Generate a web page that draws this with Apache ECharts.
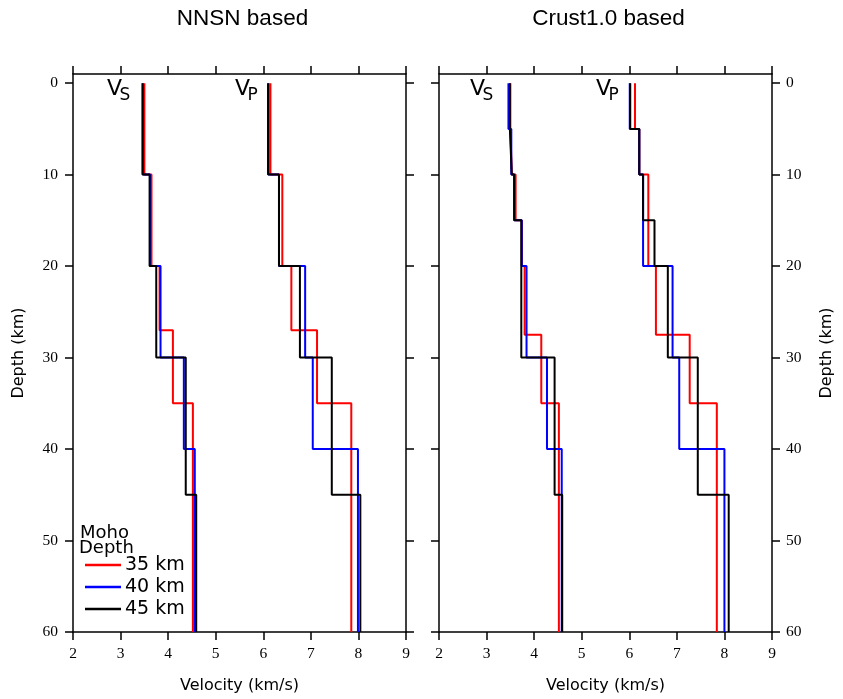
<!DOCTYPE html>
<html><head><meta charset="utf-8">
<script src="https://cdn.jsdelivr.net/npm/echarts@6/dist/echarts.min.js"></script>
<style>html,body{margin:0;padding:0;background:#fff}#c{width:843px;height:699px}</style>
</head><body><div id="c"></div>
<script>
const panelTitles = ['NNSN based', 'Crust1.0 based'];
const mohoNames = ['35 km', '40 km', '45 km'];
const mohoColors = ['#ff0000', '#0000ff', '#000000'];
const xTicks = [2, 3, 4, 5, 6, 7, 8, 9];
const depthTicks = [0, 10, 20, 30, 40, 50, 60];
const maxDepth = 60;

// NNSN based: layer top depths (km) and velocities (km/s)
const nnsnTops35 = [0, 10, 20, 27, 35];
const nnsnTops40 = [0, 10, 20, 30, 40];
const nnsnTops45 = [0, 10, 20, 30, 45];
const nnsnVs35 = [3.50, 3.65, 3.82, 4.10, 4.52];
const nnsnVs40 = [3.47, 3.62, 3.84, 4.33, 4.56];
const nnsnVs45 = [3.46, 3.61, 3.75, 4.37, 4.59];
const nnsnVp35 = [6.15, 6.40, 6.59, 7.13, 7.85];
const nnsnVp40 = [6.11, 6.33, 6.88, 7.04, 7.99];
const nnsnVp45 = [6.10, 6.33, 6.77, 7.44, 8.04];

// Crust1.0 based
const crustTops35 = [0, 5, 10, 15, 20, 27.5, 35];
const crustTops40 = [0, 5, 10, 15, 20, 30, 40];
const crustTops45 = [0, 5, 10, 15, 20, 30, 45];
const crustVs35 = [3.50, 3.53, 3.61, 3.74, 3.80, 4.15, 4.52];
const crustVs40 = [3.46, 3.52, 3.58, 3.74, 3.84, 4.27, 4.58];
const crustVs45 = [3.49, 3.53, 3.58, 3.73, 3.73, 4.43, 4.59];
const crustVp35 = [6.12, 6.21, 6.40, 6.40, 6.56, 7.27, 7.84];
const crustVp40 = [6.01, 6.21, 6.29, 6.29, 6.91, 7.05, 8.00];
const crustVp45 = [6.02, 6.21, 6.29, 6.53, 6.81, 7.44, 8.09];

function profile(tops, vals) {
  const pts = [];
  for (let i = 0; i < tops.length; i++) {
    const bot = i + 1 < tops.length ? tops[i + 1] : maxDepth;
    pts.push([vals[i], tops[i]]);
    pts.push([vals[i], bot]);
  }
  return pts;
}

const panels = [
  { tops: [nnsnTops35, nnsnTops40, nnsnTops45], vs: [nnsnVs35, nnsnVs40, nnsnVs45], vp: [nnsnVp35, nnsnVp40, nnsnVp45] },
  { tops: [crustTops35, crustTops40, crustTops45], vs: [crustVs35, crustVs40, crustVs45], vp: [crustVp35, crustVp40, crustVp45] }
];

const gridLefts = [73, 439];
const gw = 333, gtop = 74, gh = 558;
const serif = 'Liberation Serif';
const sans = 'DejaVu Sans';
const axisLineStyle = { color: '#000', width: 1.5 };

const grids = [], xAxes = [], yAxes = [], series = [], titles = [];
panels.forEach((p, pi) => {
  grids.push({ left: gridLefts[pi], top: gtop, width: gw, height: gh });
  titles.push({
    text: panelTitles[pi], left: gridLefts[pi] + gw / 2 - 2, top: 2, textAlign: 'center',
    textStyle: { fontFamily: 'Liberation Sans', fontSize: 22.5, fontWeight: 'normal', color: '#000' }
  });
  xAxes.push({
    gridIndex: pi, type: 'value', position: 'bottom', min: 2, max: 9, interval: 1,
    name: 'Velocity (km/s)', nameLocation: 'middle', nameGap: 46,
    nameTextStyle: { fontFamily: sans, fontSize: 16, color: '#000' },
    axisLine: { show: true, onZero: false, lineStyle: axisLineStyle },
    axisTick: { show: true, inside: false, length: 8, lineStyle: axisLineStyle },
    axisLabel: { show: true, margin: 14, fontFamily: serif, fontSize: 15.5, color: '#000' },
    splitLine: { show: false }
  });
  xAxes.push({
    gridIndex: pi, type: 'value', position: 'top', min: 2, max: 9, interval: 1,
    axisLine: { show: true, onZero: false, lineStyle: axisLineStyle },
    axisTick: { show: true, inside: false, length: 8, lineStyle: axisLineStyle },
    axisLabel: { show: false }, splitLine: { show: false }
  });
  const leftLabels = pi === 0;
  yAxes.push({
    gridIndex: pi, type: 'value', position: 'left', min: -1, max: 60, inverse: true,
    name: leftLabels ? 'Depth (km)' : '', nameLocation: 'middle', nameGap: 46, nameRotate: 90,
    nameTextStyle: { fontFamily: sans, fontSize: 16, color: '#000' },
    axisLine: { show: true, onZero: false, lineStyle: axisLineStyle },
    axisTick: { show: true, inside: false, length: 8, lineStyle: axisLineStyle, customValues: depthTicks },
    axisLabel: { show: leftLabels, margin: 15, fontFamily: serif, fontSize: 15.5, color: '#000', customValues: depthTicks },
    splitLine: { show: false }
  });
  yAxes.push({
    gridIndex: pi, type: 'value', position: 'right', min: -1, max: 60, inverse: true,
    name: leftLabels ? '' : 'Depth (km)', nameLocation: 'middle', nameGap: 47, nameRotate: 90,
    nameTextStyle: { fontFamily: sans, fontSize: 16, color: '#000' },
    axisLine: { show: true, onZero: false, lineStyle: axisLineStyle },
    axisTick: { show: true, inside: false, length: 8, lineStyle: axisLineStyle, customValues: depthTicks },
    axisLabel: { show: !leftLabels, margin: 14, fontFamily: serif, fontSize: 15.5, color: '#000', customValues: depthTicks },
    splitLine: { show: false }
  });
  ['vs', 'vp'].forEach(kind => {
    for (let m = 0; m < 3; m++) {
      series.push({
        type: 'line', name: mohoNames[m], xAxisIndex: pi * 2, yAxisIndex: pi * 2,
        data: profile(p.tops[m], p[kind][m]), showSymbol: false, symbol: 'none',
        color: mohoColors[m], lineStyle: { color: mohoColors[m], width: 2 },
        z: 3 + m, animation: false, clip: true
      });
    }
  });
});

function vLabel(x, sub) {
  return [
    { type: 'text', left: x, top: 78, style: { text: 'V', fontFamily: sans, fontSize: 22, fill: '#000' } },
    { type: 'text', left: x + 12.5, top: 87, style: { text: sub, fontFamily: sans, fontSize: 17, fill: '#000' } }
  ];
}

const graphics = [].concat(
  vLabel(107, 'S'), vLabel(235, 'P'), vLabel(470, 'S'), vLabel(596, 'P'),
  [
    { type: 'text', left: 80, top: 524, style: { text: 'Moho', fontFamily: sans, fontSize: 18, fill: '#000' } },
    { type: 'text', left: 79, top: 539, style: { text: 'Depth', fontFamily: sans, fontSize: 18, fill: '#000' } }
  ]
);

const chart = echarts.init(document.getElementById('c'), null, { renderer: 'canvas' });
chart.setOption({
  backgroundColor: '#fff',
  animation: false,
  title: titles,
  grid: grids,
  xAxis: xAxes,
  yAxis: yAxes,
  legend: {
    data: mohoNames, orient: 'vertical', left: 85, top: 554, padding: 0, icon: 'rect',
    itemWidth: 36, itemHeight: 2.5, itemGap: 0,
    textStyle: { fontFamily: sans, fontSize: 19, lineHeight: 22, color: '#000', padding: [0, 0, 0, -1] },
    selectedMode: false
  },
  series: series,
  graphic: graphics
});
</script></body></html>
